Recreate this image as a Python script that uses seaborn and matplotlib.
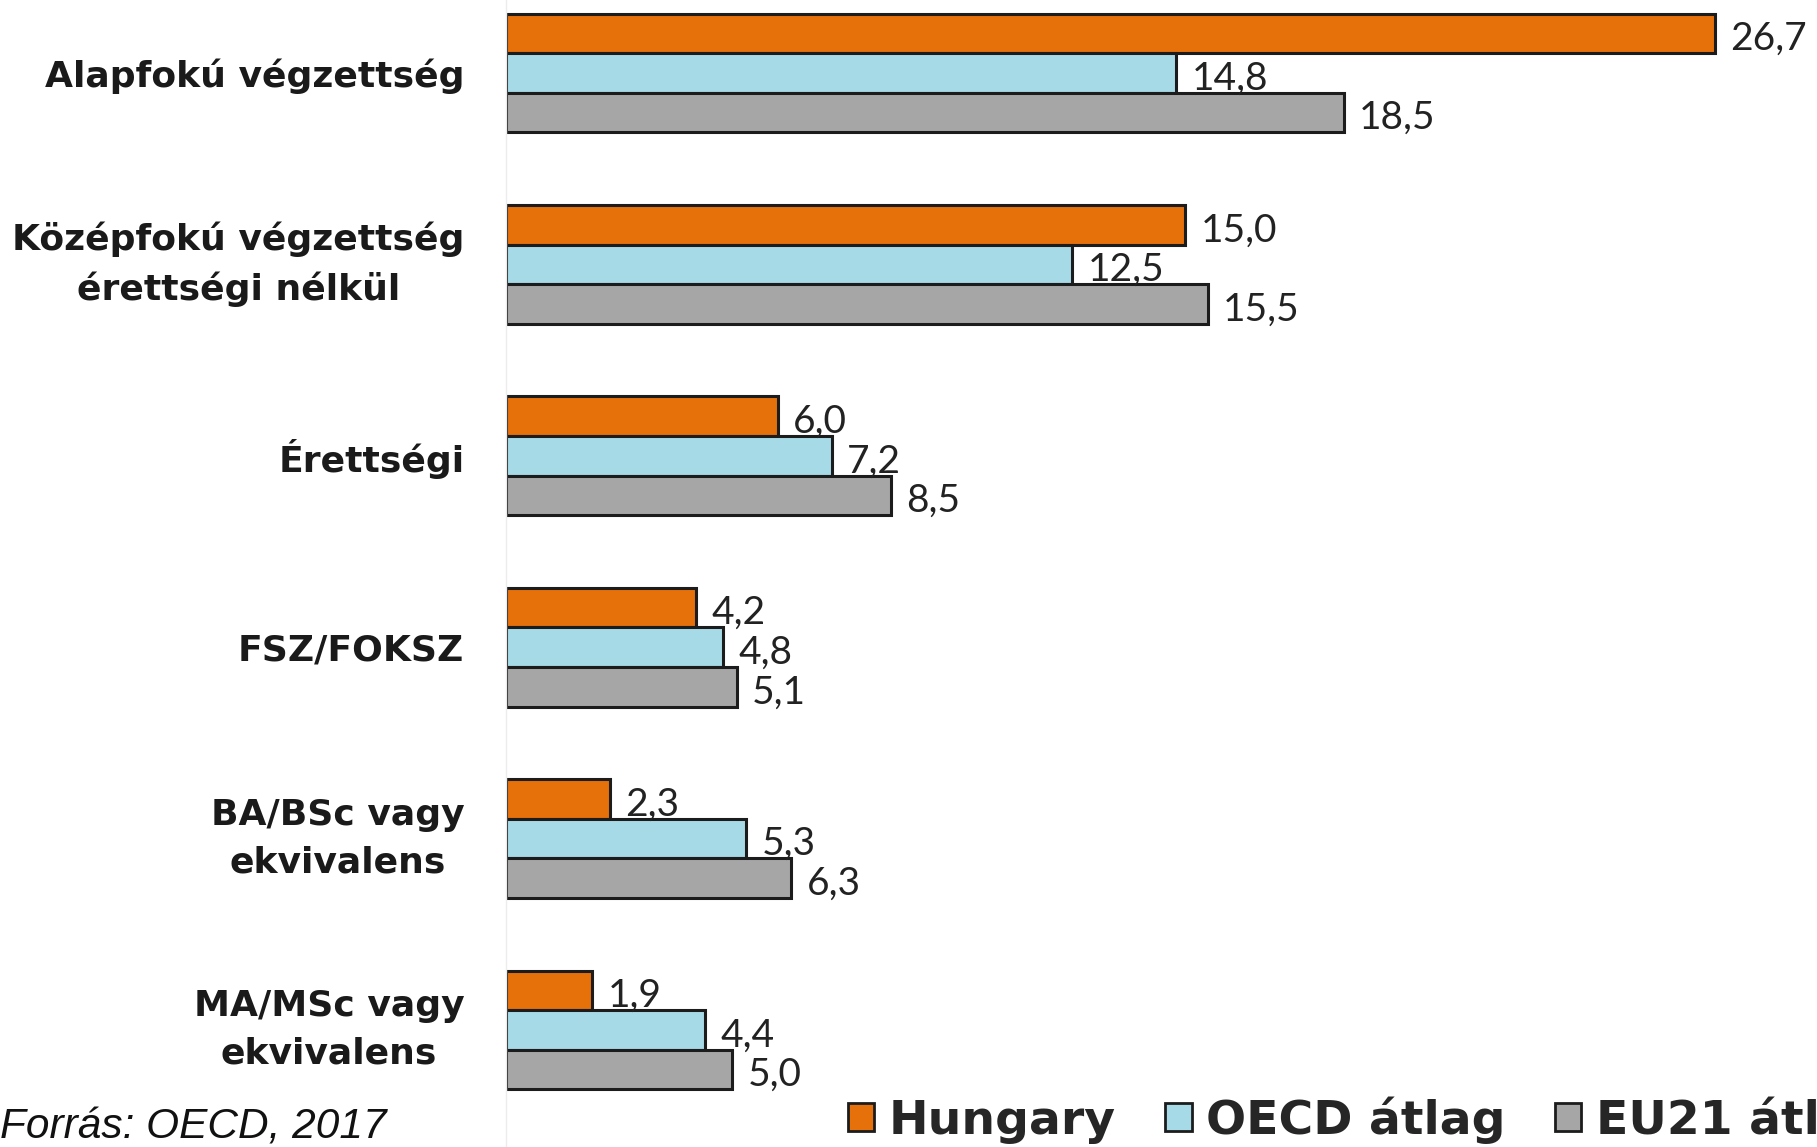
import seaborn as sns
import matplotlib.pyplot as plt
import matplotlib.patches as mpatches
import pandas as pd

categories = ['Alapfokú végzettség', 'Középfokú végzettség\nérettségi nélkül', 'Érettségi',
              'FSZ/FOKSZ', 'BA/BSc vagy\nekvivalens', 'MA/MSc vagy\nekvivalens']
series = ['Hungary', 'OECD átlag', 'EU21 átlag']
hungary = [26.7, 15.0, 6.0, 4.2, 2.3, 1.9]
oecd = [14.8, 12.5, 7.2, 4.8, 5.3, 4.4]
eu21 = [18.5, 15.5, 8.5, 5.1, 6.3, 5.0]

ORANGE, LBLUE, GREY, EDGE = '#E6700A', '#A6DAE7', '#A6A6A6', '#1c1c1c'

rows = []
for s, vals in zip(series, [hungary, oecd, eu21]):
    for c, v in zip(categories, vals):
        rows.append({'cat': c, 'value': v, 'series': s})
df = pd.DataFrame(rows)

sns.set_theme(style='white')
plt.rcParams['font.family'] = ['DejaVu Sans']

fig = plt.figure(figsize=(18.17, 11.47), dpi=100)
ax = fig.add_axes([506 / 1817, 0.0, 1 - 506 / 1817, 1.0])

sns.barplot(data=df, y='cat', x='value', hue='series', orient='h',
            palette=[ORANGE, LBLUE, GREY], saturation=1, width=0.62,
            edgecolor=EDGE, linewidth=2.2, ax=ax, legend=False, errorbar=None)

# value labels, decimal comma, sitting a bit low like the original
for cont in ax.containers:
    labels = [f'{b.get_width():.1f}'.replace('.', ',') for b in cont]
    anns = ax.bar_label(cont, labels=labels, padding=11, fontsize=28,
                        family='Lato', color='#222222')
    for a in anns:
        a.xyann = (11, -4)

ax.set_xlim(0, 28.95)
ax.set_ylim(5.611, -0.381)
ax.set_xlabel('')
ax.set_ylabel('')
ax.set_xticks([])
ax.tick_params(axis='y', length=0, pad=30)
for lab in ax.get_yticklabels():
    lab.set_fontsize(26)
    lab.set_fontweight('bold')
    lab.set_multialignment('center')
    lab.set_linespacing(1.5)
    lab.set_color('#1a1a1a')
    if '\n' in lab.get_text():
        lab.set_verticalalignment('center')
for side in ['top', 'right', 'bottom']:
    ax.spines[side].set_visible(False)
ax.spines['left'].set_color('#ececec')
ax.spines['left'].set_linewidth(1)

handles = [mpatches.Patch(facecolor=c, edgecolor=EDGE, linewidth=2, label=s)
           for c, s in zip([ORANGE, LBLUE, GREY], series)]
fig.legend(handles=handles, loc='center left', bbox_to_anchor=(848 / 1817, 1 - 1120 / 1147),
           ncol=3, frameon=False, prop={'weight': 'bold', 'size': 34},
           handlelength=0.56, handleheight=0.56, handletextpad=0.3,
           columnspacing=1.05, borderaxespad=0, borderpad=0)

fig.text(0.0, 1 - 1128 / 1147, 'Forrás: OECD, 2017', fontsize=30.5, style='italic',
         family='Liberation Sans', va='center', ha='left', color='#111111')

fig.savefig('out.png', dpi=100)
